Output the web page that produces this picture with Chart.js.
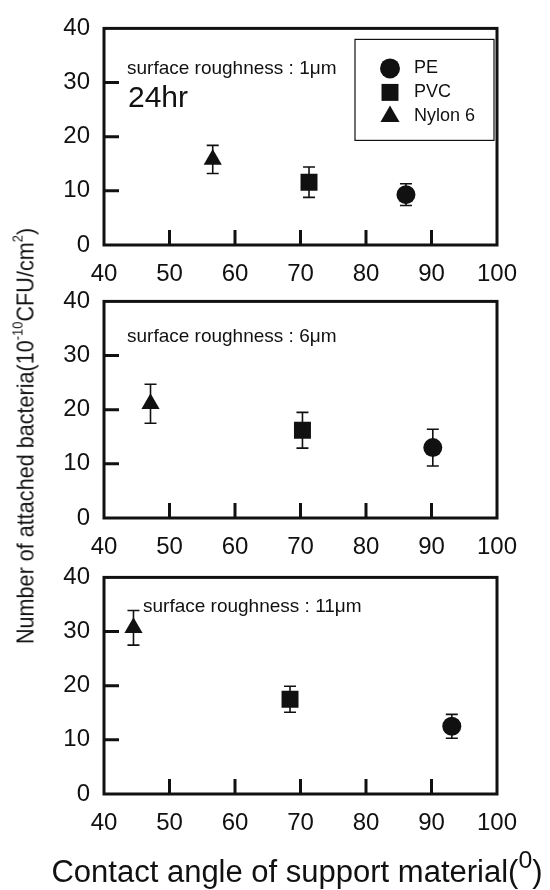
<!DOCTYPE html>
<html><head><meta charset="utf-8">
<script src="https://cdn.jsdelivr.net/npm/chart.js@4.4.1/dist/chart.umd.min.js"></script>
<style>
html,body{margin:0;padding:0;background:#fff;}
body{width:550px;height:890px;position:relative;overflow:hidden;font-family:'Liberation Sans',Arial,sans-serif;color:#111;}
canvas{position:absolute;left:0;}
.t{position:absolute;white-space:nowrap;color:#111;font-family:'Liberation Sans',Arial,sans-serif;}
.sup{font-size:0.6em;position:relative;top:-0.75em;}
.sup2{font-size:0.8em;position:relative;top:-0.55em;}
</style></head><body>
<canvas id="c1" width="550" height="290" style="top:0px"></canvas>
<canvas id="c2" width="550" height="290" style="top:273px"></canvas>
<canvas id="c3" width="550" height="290" style="top:549px"></canvas>
<div class="t" id="ytitle" style="left:27px;top:436px;font-size:24px;line-height:24px;transform:translate(-50%,-50%) rotate(-90deg) scaleX(0.9);">Number of attached bacteria(10<span class="sup">-10</span>CFU/cm<span class="sup">2</span>)</div>
<div class="t" id="xtitle" style="left:0;width:594px;text-align:center;top:856px;font-size:31px;line-height:31px;">Contact angle of support material(<span class="sup2">0</span>)</div>
<script>
// ---- data ----
const materials = ['PE', 'PVC', 'Nylon 6'];
const roughness = ['1\u03bcm', '6\u03bcm', '11\u03bcm'];
const timeLabel = '24hr';
const xTicks = [40, 50, 60, 70, 80, 90, 100];
const yTicks = [0, 10, 20, 30, 40];
// contact angle (x) and attached bacteria (y) per panel [1um, 6um, 11um]
const peAngle = [86.1, 90.2, 93.1];
const peCount = [9.3, 13.0, 12.5];
const peErr = [2.0, 3.4, 2.2];
const pvcAngle = [71.3, 70.3, 68.4];
const pvcCount = [11.6, 16.2, 17.5];
const pvcErr = [2.8, 3.3, 2.4];
const nylonAngle = [56.6, 47.1, 44.5];
const nylonCount = [15.8, 21.1, 30.7];
const nylonErr = [2.6, 3.6, 3.2];

const INK = '#111';
const FONT = "'Liberation Sans', Arial, sans-serif";

function drawMarker(ctx, style, x, y, r) {
  ctx.beginPath();
  if (style === 'circle') {
    ctx.arc(x, y, r, 0, Math.PI * 2);
  } else if (style === 'rect') {
    const s = Math.SQRT1_2 * r;
    ctx.rect(x - s, y - s, 2 * s, 2 * s);
  } else {
    let rad = 0;
    ctx.moveTo(x + Math.sin(rad) * r, y - Math.cos(rad) * r);
    rad += 2 * Math.PI / 3;
    ctx.lineTo(x + Math.sin(rad) * r, y - Math.cos(rad) * r);
    rad += 2 * Math.PI / 3;
    ctx.lineTo(x + Math.sin(rad) * r, y - Math.cos(rad) * r);
    ctx.closePath();
  }
  ctx.fill();
}

const panelPlugin = {
  id: 'panel',
  beforeDatasetsDraw(chart) {
    const { ctx, scales: { x, y } } = chart;
    ctx.save();
    ctx.strokeStyle = INK;
    ctx.lineWidth = 1.6;
    chart.data.datasets.forEach((ds) => {
      ds.data.forEach((d, j) => {
        const e = ds.errors[j];
        const px = x.getPixelForValue(d.x);
        const top = y.getPixelForValue(d.y + e);
        const bot = y.getPixelForValue(d.y - e);
        ctx.beginPath();
        ctx.moveTo(px, top); ctx.lineTo(px, bot);
        ctx.moveTo(px - 6, top); ctx.lineTo(px + 6, top);
        ctx.moveTo(px - 6, bot); ctx.lineTo(px + 6, bot);
        ctx.stroke();
      });
    });
    ctx.restore();
  },
  afterDraw(chart, args, opts) {
    const { ctx, chartArea: a, scales: { x, y } } = chart;
    ctx.save();
    ctx.strokeStyle = INK;
    ctx.lineWidth = 3;
    ctx.strokeRect(a.left, a.top, a.right - a.left, a.bottom - a.top);
    // inward ticks
    ctx.beginPath();
    y.ticks.forEach(t => {
      if (t.value > y.min && t.value < y.max) {
        const py = y.getPixelForValue(t.value);
        ctx.moveTo(a.left, py); ctx.lineTo(a.left + 15, py);
      }
    });
    x.ticks.forEach(t => {
      if (t.value > x.min && t.value < x.max) {
        const px = x.getPixelForValue(t.value);
        ctx.moveTo(px, a.bottom); ctx.lineTo(px, a.bottom - 15);
      }
    });
    ctx.stroke();
    // notes
    ctx.fillStyle = INK;
    ctx.textBaseline = 'middle';
    ctx.textAlign = 'left';
    (opts.notes || []).forEach(n => {
      ctx.font = n.size + 'px ' + FONT;
      ctx.fillText(n.text, a.left + n.dx, a.top + n.dy);
    });
    // legend
    if (opts.legend) {
      const L = opts.legend;
      const bx = a.right - L.w - L.dr, by = a.top + L.dt;
      ctx.lineWidth = 1.2;
      ctx.strokeRect(bx, by, L.w, L.h);
      ctx.font = L.size + 'px ' + FONT;
      chart.data.datasets.forEach((ds, i) => {
        const cy = by + L.row0 + i * L.rowGap;
        drawMarker(ctx, ds.pointStyle, bx + L.mx, cy, L.radii[i]);
        ctx.fillText(ds.label, bx + L.tx, cy);
      });
    }
    ctx.restore();
  }
};

function makeChart(id, k, notes, legend) {
  const datasets = [
    { label: materials[0], data: [{ x: peAngle[k], y: peCount[k] }], errors: [peErr[k]], pointStyle: 'circle', pointRadius: 9.5 },
    { label: materials[1], data: [{ x: pvcAngle[k], y: pvcCount[k] }], errors: [pvcErr[k]], pointStyle: 'rect', pointRadius: 12 },
    { label: materials[2], data: [{ x: nylonAngle[k], y: nylonCount[k] }], errors: [nylonErr[k]], pointStyle: 'triangle', pointRadius: 10.5 }
  ].map(d => Object.assign(d, { backgroundColor: INK, borderColor: INK, borderWidth: 0, pointHoverRadius: d.pointRadius, showLine: false }));
  return new Chart(document.getElementById(id), {
    type: 'scatter',
    data: { datasets },
    plugins: [panelPlugin],
    options: {
      responsive: false,
      animation: false,
      devicePixelRatio: 1,
      events: [],
      layout: { padding: { top: 22, right: 53, bottom: 0, left: 0 } },
      plugins: {
        legend: { display: false },
        tooltip: { enabled: false },
        panel: { notes, legend }
      },
      scales: {
        x: {
          type: 'linear', min: xTicks[0], max: xTicks[xTicks.length - 1],
          afterBuildTicks: s => { s.ticks = xTicks.map(v => ({ value: v })); },
          afterFit: s => { s.height = 45; },
          grid: { display: false, drawTicks: false },
          border: { display: false },
          ticks: { color: INK, padding: 15, font: { family: FONT, size: 24 }, maxRotation: 0, autoSkip: false }
        },
        y: {
          type: 'linear', min: yTicks[0], max: yTicks[yTicks.length - 1],
          afterBuildTicks: s => { s.ticks = yTicks.map(v => ({ value: v })); },
          afterFit: s => { s.width = 104; },
          grid: { display: false, drawTicks: false },
          border: { display: false },
          ticks: { color: INK, padding: 14, font: { family: FONT, size: 24 } }
        }
      }
    }
  });
}

makeChart('c1', 0,
  [{ text: 'surface roughness : ' + roughness[0], dx: 23, dy: 40, size: 19 },
   { text: timeLabel, dx: 24, dy: 70, size: 30 }],
  { w: 139, h: 101, dr: 3, dt: 11, mx: 35, tx: 59, row0: 29, rowGap: 24, size: 18, radii: [10, 12, 11] });
makeChart('c2', 1,
  [{ text: 'surface roughness : ' + roughness[1], dx: 23, dy: 35, size: 19 }], null);
makeChart('c3', 2,
  [{ text: 'surface roughness : ' + roughness[2], dx: 39, dy: 29, size: 19 }], null);
</script>
</body></html>
